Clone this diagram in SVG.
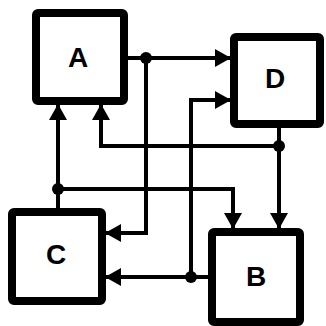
<svg xmlns="http://www.w3.org/2000/svg" width="326" height="326" viewBox="0 0 326 326">
<defs>
<marker id="ah" markerUnits="userSpaceOnUse" markerWidth="16" markerHeight="18" viewBox="0 0 16 18" refX="15" refY="9" orient="auto">
<path d="M0,0 L16,9 L0,18 Z" fill="#000"/>
</marker>
<style>
.box{fill:#fff;stroke:#000;stroke-width:8;stroke-linejoin:round}
.lbl{font-family:"Liberation Sans",Arial,sans-serif;font-weight:bold;font-size:28px;text-anchor:middle;dominant-baseline:central;fill:#000}
.c{fill:none;stroke:#000;stroke-width:4}
.a{marker-end:url(#ah)}
.dot{fill:#000}
</style>
</defs>
<rect width="326" height="326" fill="#fff"/>
<g id="connectors">
<path class="c a" d="M128,58 H230"/>
<path class="c a" d="M146,58 V233 H106"/>
<path class="c a" d="M58,208 V105"/>
<path class="c a" d="M58,189 H233 V228"/>
<path class="c a" d="M279,128 V228"/>
<path class="c a" d="M279,146 H101 V105"/>
<path class="c a" d="M208,277 H106"/>
<path class="c a" d="M191,277 V100 H230"/>
<circle class="dot" cx="146" cy="58" r="6"/>
<circle class="dot" cx="58" cy="189" r="6"/>
<circle class="dot" cx="279" cy="146" r="6"/>
<circle class="dot" cx="191" cy="277" r="6"/>
</g>
<g id="A"><rect class="box" x="36" y="13" width="88" height="88" rx="2"/><text class="lbl" x="78" y="57">A</text></g>
<g id="D"><rect class="box" x="234" y="37" width="86" height="87" rx="2"/><text class="lbl" x="275" y="78">D</text></g>
<g id="C"><rect class="box" x="12" y="212" width="90" height="89" rx="2"/><text class="lbl" x="56" y="254">C</text></g>
<g id="B"><rect class="box" x="212" y="232" width="88" height="90" rx="2"/><text class="lbl" x="256" y="276">B</text></g>
</svg>
